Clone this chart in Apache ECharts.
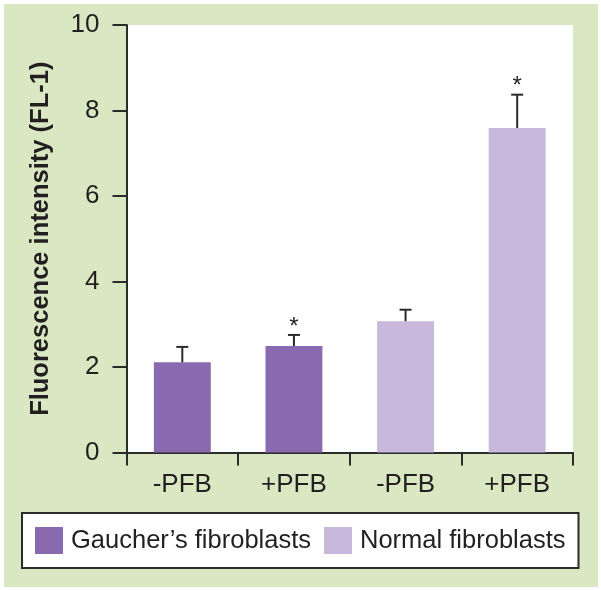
<!DOCTYPE html>
<html>
<head>
<meta charset="utf-8">
<script src="https://cdn.jsdelivr.net/npm/echarts@6/dist/echarts.min.js"></script>
<style>
  html, body { margin: 0; padding: 0; background: #ffffff; }
  #wrap { position: relative; width: 601px; height: 590px; background: #ffffff; }
  #bg { position: absolute; left: 4px; top: 4px; width: 594px; height: 583px; background: #d9e8c2; }
  #chart { position: absolute; left: 0; top: 0; width: 601px; height: 590px; }
</style>
</head>
<body>
<div id="wrap"><div id="bg"></div><div id="chart"></div></div>
<script>
// ---- data ----
const categories = ['-PFB', '+PFB', '-PFB', '+PFB'];
const gaucherValues = [2.11, 2.49, null, null];
const normalValues = [null, null, 3.07, 7.59];
const errorTops = [2.47, 2.75, 3.34, 8.37];
const significance = ['', '*', '', '*'];
const seriesNames = ["Gaucher\u2019s fibroblasts", 'Normal fibroblasts'];
const yAxisName = 'Fluorescence intensity (FL-1)';

// ---- build ----
const FONT = '"Liberation Sans", Arial, Helvetica, sans-serif';
const INK = '#231f20';
const barValues = categories.map((c, i) => gaucherValues[i] != null ? gaucherValues[i] : normalValues[i]);
const errData = categories.map((c, i) => [i, barValues[i], errorTops[i], significance[i]]);

const chart = echarts.init(document.getElementById('chart'), null, { renderer: 'canvas' });
chart.setOption({
  backgroundColor: 'transparent',
  animation: false,
  textStyle: { fontFamily: FONT },
  grid: {
    left: 126.5, right: 28, top: 25, bottom: 137.5,
    containLabel: false, outerBoundsMode: 'none',
    show: true, backgroundColor: '#ffffff', borderWidth: 0
  },
  legend: {
    left: 22, top: 513,
    orient: 'horizontal',
    itemWidth: 28, itemHeight: 27, itemGap: 13,
    padding: [14, 13, 14, 13],
    backgroundColor: '#ffffff', borderColor: '#2b2b2b', borderWidth: 2,
    icon: 'rect',
    textStyle: { fontFamily: FONT, fontSize: 25.5, color: INK, padding: [0, 0, 0, 3] },
    data: seriesNames
  },
  xAxis: {
    type: 'category',
    data: categories,
    boundaryGap: true,
    axisLine: { show: true, lineStyle: { color: '#2b2b2b', width: 2 } },
    axisTick: { show: true, length: 13, lineStyle: { color: '#2b2b2b', width: 2 } },
    axisLabel: { fontFamily: FONT, fontSize: 26, color: INK, margin: 19 },
    splitLine: { show: false }
  },
  yAxis: {
    type: 'value',
    min: 0, max: 10, interval: 2,
    name: yAxisName,
    nameLocation: 'middle',
    nameGap: 73,
    nameRotate: 90,
    nameTextStyle: { fontFamily: FONT, fontSize: 25.5, fontWeight: 'bold', color: INK },
    axisLine: { show: true, lineStyle: { color: '#2b2b2b', width: 2 } },
    axisTick: { show: true, length: 14, lineStyle: { color: '#2b2b2b', width: 2 } },
    axisLabel: { fontFamily: FONT, fontSize: 26, color: INK, margin: 27 },
    splitLine: { show: false }
  },
  series: [
    {
      name: seriesNames[0], type: 'bar', data: gaucherValues,
      barWidth: '51%', barGap: '-100%',
      itemStyle: { color: '#8a6aae' }
    },
    {
      name: seriesNames[1], type: 'bar', data: normalValues,
      barWidth: '51%', barGap: '-100%',
      itemStyle: { color: '#c7b8dc' }
    },
    {
      name: 'error', type: 'custom',
      data: errData,
      encode: { x: 0, y: [1, 2] },
      z: 10,
      renderItem: function (params, api) {
        const idx = api.value(0);
        const base = api.coord([idx, api.value(1)]);
        const top = api.coord([idx, api.value(2)]);
        const sig = errData[params.dataIndex][3];
        const half = 6;
        const children = [
          { type: 'line', shape: { x1: base[0], y1: base[1], x2: top[0], y2: top[1] },
            style: { stroke: '#2b2b2b', lineWidth: 2 } },
          { type: 'line', shape: { x1: top[0] - half, y1: top[1], x2: top[0] + half, y2: top[1] },
            style: { stroke: '#2b2b2b', lineWidth: 2 } }
        ];
        if (sig) {
          children.push({
            type: 'text',
            style: { text: sig, x: top[0], y: top[1] - 8, align: 'center', verticalAlign: 'middle',
                     font: '24px ' + FONT, fill: INK }
          });
        }
        return { type: 'group', children: children };
      }
    }
  ]
});
</script>
</body>
</html>
